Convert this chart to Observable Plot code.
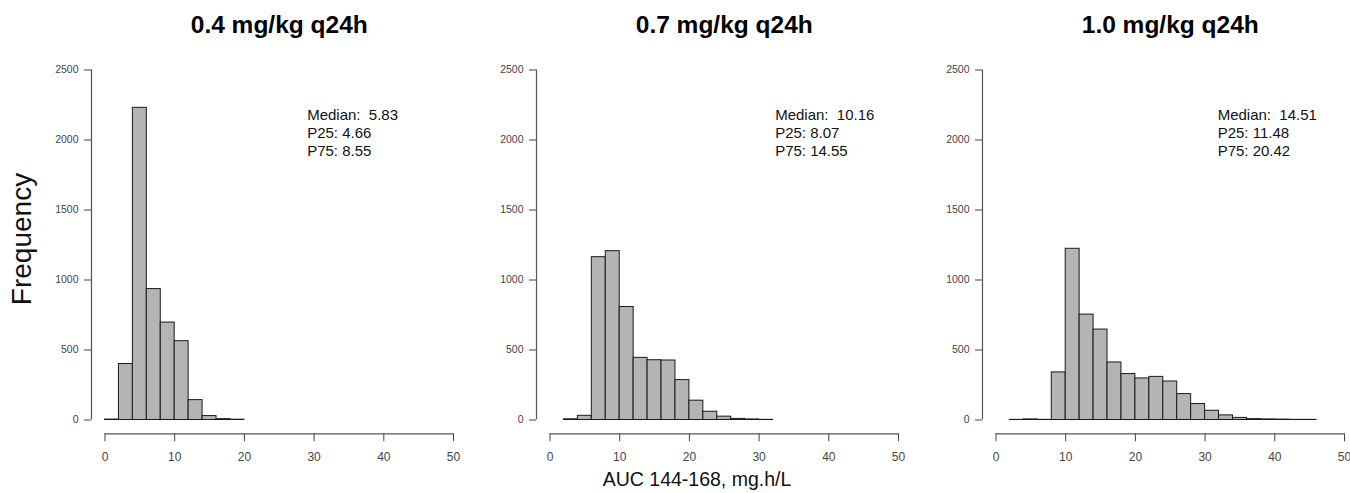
<!DOCTYPE html>
<html>
<head>
<meta charset="utf-8">
<script src="https://cdn.jsdelivr.net/npm/d3@7"></script>
<script src="https://cdn.jsdelivr.net/npm/@observablehq/plot@0.6"></script>
<style>
  html, body { margin: 0; padding: 0; background: #fff; }
  #wrap { position: relative; width: 1350px; height: 493px; overflow: hidden;
          font-family: "Liberation Sans", Arial, Helvetica, sans-serif; }
  .panel { position: absolute; top: 0; }
  #ylab { position: absolute; left: 22px; top: 239px; transform: translate(-50%, -50%) rotate(-90deg);
          font-size: 28px; white-space: nowrap; color: #111; line-height: 1; }
  #xlab { position: absolute; left: 697px; top: 470px; transform: translateX(-50%);
          font-size: 19.5px; white-space: nowrap; color: #111; line-height: 19px; }
</style>
</head>
<body>
<div id="wrap">
  <div id="ylab">Frequency</div>
  <div id="xlab">AUC 144-168, mg.h/L</div>
</div>
<script>
// ---- data ----
const doses = ["0.4 mg/kg q24h", "0.7 mg/kg q24h", "1.0 mg/kg q24h"];
const binWidth = 2;
const binLo1 = [0, 2, 4, 6, 8, 10, 12, 14, 16, 18];
const count1 = [3, 400, 2230, 935, 696, 563, 142, 28, 6, 2];
const binLo2 = [2, 4, 6, 8, 10, 12, 14, 16, 18, 20, 22, 24, 26, 28, 30];
const count2 = [5, 30, 1163, 1206, 807, 444, 427, 425, 285, 138, 59, 24, 8, 4, 1];
const binLo3 = [2, 4, 6, 8, 10, 12, 14, 16, 18, 20, 22, 24, 26, 28, 30, 32, 34, 36, 38, 40, 42, 44];
const count3 = [1, 4, 1, 340, 1223, 753, 646, 411, 328, 297, 308, 275, 185, 114, 66, 33, 15, 6, 4, 3, 1, 1];
const medians = ["5.83", "10.16", "14.51"];
const p25s = ["4.66", "8.07", "11.48"];
const p75s = ["8.55", "14.55", "20.42"];
const xTicks = [0, 10, 20, 30, 40, 50];
const yTicks = [0, 500, 1000, 1500, 2000, 2500];

// ---- layout ----
const font = '"Liberation Sans", Arial, Helvetica, sans-serif';
const panelLeft = [0, 445, 891];
const annotX = [29, 32.3, 31.8];
const annotY = 2240;
const insetL = 13.5, insetB = 13.8;
const panels = [[binLo1, count1], [binLo2, count2], [binLo3, count3]];

const wrap = document.getElementById("wrap");
panels.forEach(([lo, n], i) => {
  const bins = lo.map((l, k) => ({lo: l, hi: l + binWidth, n: n[k]}));
  const annot = `Median:\u00a0 ${medians[i]}\nP25: ${p25s[i]}\nP75: ${p75s[i]}`;
  const chart = Plot.plot({
    width: 459, height: 493,
    marginLeft: 91, marginRight: 6, marginTop: 69.5, marginBottom: 59.7,
    insetLeft: insetL, insetRight: 0, insetTop: 0, insetBottom: insetB,
    x: {domain: [xTicks[0], xTicks[xTicks.length - 1]], axis: null},
    y: {domain: [yTicks[0], yTicks[yTicks.length - 1]], axis: null},
    style: {background: "transparent", overflow: "visible", fontFamily: font},
    marks: [
      Plot.rectY(bins, {x1: "lo", x2: "hi", y: "n", fill: "#b4b4b4", stroke: "#1a1a1a", strokeWidth: 1}),
      Plot.ruleX([xTicks[0]], {y1: yTicks[0], y2: yTicks[yTicks.length - 1], dx: -insetL, stroke: "#555", strokeWidth: 1.2}),
      Plot.ruleY([yTicks[0]], {x1: xTicks[0], x2: xTicks[xTicks.length - 1], dy: insetB, stroke: "#555", strokeWidth: 1.2}),
      Plot.axisY({ticks: yTicks, tickSize: 7, tickPadding: 6, tickFormat: d3.format("d"),
                  fontSize: 10.5, color: "#444", label: null}),
      Plot.axisX({ticks: xTicks, tickSize: 8, tickPadding: 11, tickFormat: d3.format("d"),
                  fontSize: 12, color: "#444", label: null}),
      Plot.text([doses[i]], {x: d3.mean(xTicks.filter((d, k) => k === 0 || k === xTicks.length - 1)),
                  frameAnchor: "top", lineAnchor: "middle", dy: -45, fontSize: 24.5, fontWeight: "bold", fill: "#000"}),
      Plot.text([annot], {x: annotX[i], y: annotY, textAnchor: "start", lineAnchor: "top",
                  fontSize: 15, lineHeight: 1.23, fill: "#111"})
    ]
  });
  chart.classList.add("panel");
  chart.style.left = panelLeft[i] + "px";
  chart.style.maxWidth = "none";
  wrap.appendChild(chart);
});
</script>
</body>
</html>
